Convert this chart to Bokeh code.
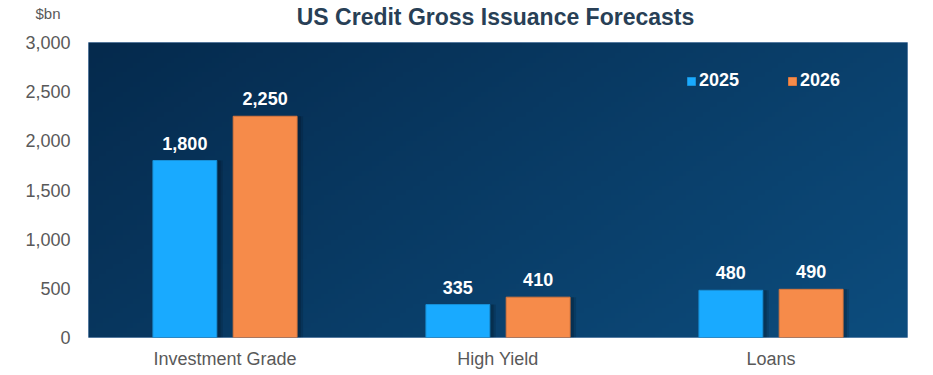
import numpy as np
from bokeh.plotting import figure
from bokeh.layouts import column
from bokeh.models import (FactorRange, Range1d, ColumnDataSource, Label, Legend, LegendItem,
                          FixedTicker, NumeralTickFormatter, LinearAxis)
from bokeh.transform import dodge
from bokeh.core.properties import value
from bokeh.embed import file_html
from bokeh.resources import INLINE

categories = ["Investment Grade", "High Yield", "Loans"]
series_2025 = [1800, 335, 480]
series_2026 = [2250, 410, 490]
y_ticks = [0, 500, 1000, 1500, 2000, 2500, 3000]
title_text = "US Credit Gross Issuance Forecasts"
unit_text = "$bn"

FONT = "Liberation Sans"
W, H = 933, 375
HEAD = 32
LEFT, RIGHT = 88, 26

# ---- header (title + unit) ----
h = figure(width=W, height=HEAD, x_range=Range1d(LEFT, W - RIGHT), y_range=Range1d(0, HEAD),
           output_backend="svg", toolbar_location=None, y_axis_location=None,
           x_axis_location=None,
           min_border_left=LEFT, min_border_right=RIGHT,
           min_border_top=0, min_border_bottom=0)
h.grid.visible = False
h.outline_line_color = None
h.background_fill_color = "white"
h.border_fill_color = "white"
h.add_layout(Label(x=495, y=16, text=title_text, text_align="center",
                   text_baseline="middle", text_font=FONT, text_font_style="bold",
                   text_font_size="23px", text_color="#283f56"))
unit_axis = LinearAxis(ticker=FixedTicker(ticks=[HEAD - 13]),
                       major_label_overrides={HEAD - 13: unit_text})
unit_axis.axis_line_color = None
unit_axis.major_tick_line_color = None
unit_axis.minor_tick_line_color = None
unit_axis.major_label_text_font = FONT
unit_axis.major_label_text_font_size = "15px"
unit_axis.major_label_text_color = "#595959"
unit_axis.major_label_standoff = 22
h.add_layout(unit_axis, "left")

# ---- main chart ----
p = figure(width=W, height=H - HEAD, x_range=FactorRange(*categories, range_padding=0),
           y_range=Range1d(0, 3000), output_backend="svg", toolbar_location=None,
           min_border_left=LEFT, min_border_right=RIGHT, min_border_top=42 - HEAD,
           min_border_bottom=38)
p.x_range.range_padding = 0
p.background_fill_color = "white"
p.border_fill_color = "white"
p.outline_line_color = "#6f90b4"
p.outline_line_width = 1

# gradient background
ny, nx = 60, 240
yy, xx = np.mgrid[0:ny, 0:nx]
t = (xx / (nx - 1)) * 0.65 + (1 - yy / (ny - 1)) * 0.35
c0 = np.array([0x05, 0x2a, 0x4d])
c1 = np.array([0x0d, 0x4d, 0x7e])
img = np.zeros((ny, nx), dtype=np.uint32)
view = img.view(dtype=np.uint8).reshape((ny, nx, 4))
for k in range(3):
    view[:, :, k] = (c0[k] + (c1[k] - c0[k]) * t).astype(np.uint8)
view[:, :, 3] = 255
p.image_rgba(image=[img], x=0, y=0, dw=len(categories), dh=3000)

src = ColumnDataSource(dict(cat=categories, v25=series_2025, v26=series_2026,
                            l25=[f"{v:,}" for v in series_2025],
                            l26=[f"{v:,}" for v in series_2026]))

off = 0.147
bw = 0.234
# soft shadows
for sh, a in ((0.022, 0.12), (0.014, 0.16)):
    p.vbar(x=dodge("cat", -off + sh, range=p.x_range), top="v25", width=bw, source=src,
           fill_color="#000000", fill_alpha=a, line_color=None)
    p.vbar(x=dodge("cat", off + sh, range=p.x_range), top="v26", width=bw, source=src,
           fill_color="#000000", fill_alpha=a, line_color=None)

r25 = p.vbar(x=dodge("cat", -off, range=p.x_range), top="v25", width=bw, source=src,
             fill_color="#19aaff", line_color="#1890d8", line_width=1)
r26 = p.vbar(x=dodge("cat", off, range=p.x_range), top="v26", width=bw, source=src,
             fill_color="#f68b4a", line_color="#d9773e", line_width=1)

for col, lab, dx in (("v25", "l25", -off), ("v26", "l26", off)):
    p.text(x=dodge("cat", dx, range=p.x_range), y=col, text=lab, source=src,
           text_align="center", text_baseline="bottom", y_offset=-11,
           text_color="white", text_font=value(FONT), text_font_style="bold",
           text_font_size="18px")

legend = Legend(items=[LegendItem(label="2025", renderers=[r25]),
                       LegendItem(label="2026", renderers=[r26])],
                orientation="horizontal", location=(598, 246))
legend.background_fill_alpha = 0
legend.border_line_color = None
legend.label_text_color = "white"
legend.label_text_font = FONT
legend.label_text_font_style = "bold"
legend.label_text_font_size = "18px"
legend.glyph_width = 10
legend.glyph_height = 10
legend.label_standoff = 3
legend.spacing = 48
legend.padding = 0
legend.margin = 0
p.add_layout(legend)

# axes
p.xgrid.grid_line_color = None
p.ygrid.grid_line_color = None
for ax in (p.xaxis, p.yaxis):
    ax.axis_line_color = None
    ax.major_tick_line_color = None
    ax.minor_tick_line_color = None
    ax.major_label_text_font = FONT
    ax.major_label_text_color = "#595959"
p.yaxis.ticker = FixedTicker(ticks=y_ticks)
p.yaxis.formatter = NumeralTickFormatter(format="0,0")
p.yaxis.major_label_text_font_size = "18px"
p.yaxis.major_label_standoff = 12
p.xaxis.major_label_text_font_size = "18px"
p.xaxis.major_label_standoff = 5

layout = column(h, p, spacing=0)
open("out.html", "w").write(file_html(layout, INLINE))
